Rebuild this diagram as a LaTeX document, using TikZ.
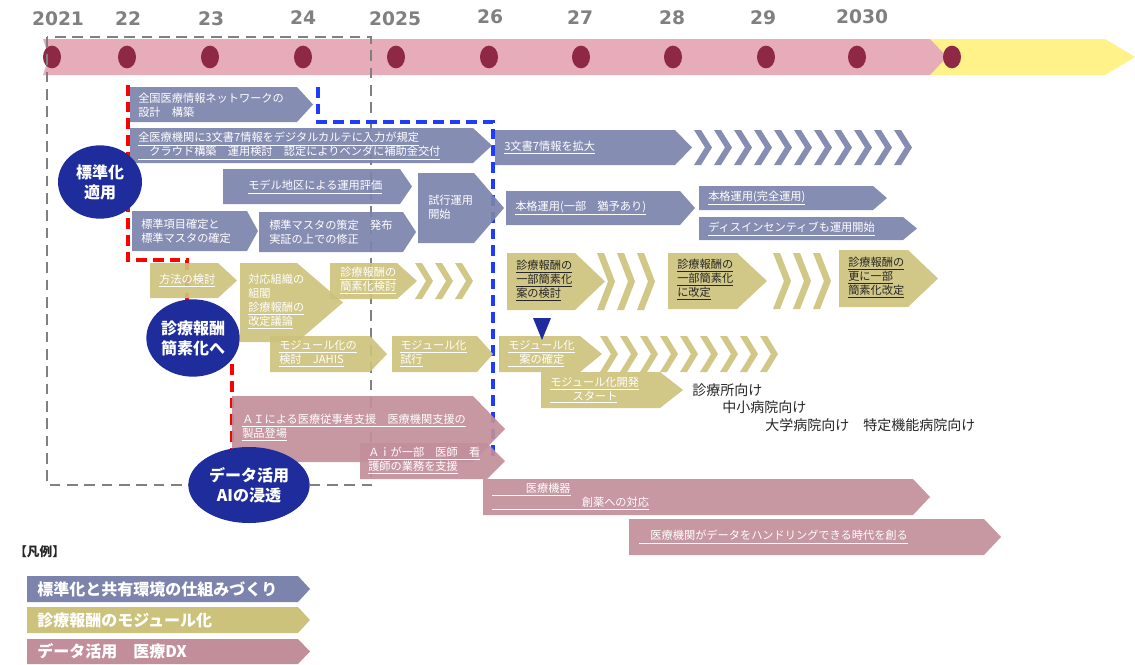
\documentclass[tikz,border=0pt]{standalone}
\usepackage{fontspec}
\setmainfont{Noto Sans CJK JP}
\newfontfamily\yearfont{DejaVu Sans}
\usetikzlibrary{shapes.geometric}
\definecolor{cBand}{RGB}{231,172,185}
\definecolor{cYel}{RGB}{255,242,136}
\definecolor{cDot}{RGB}{142,40,68}
\definecolor{cYear}{RGB}{128,128,128}
\definecolor{cBlue}{RGB}{124,131,172}
\definecolor{cOlive}{RGB}{205,194,124}
\definecolor{cMauve}{RGB}{194,142,154}
\definecolor{cNavy}{RGB}{30,45,155}
\definecolor{cRed}{RGB}{255,0,0}
\definecolor{cBDash}{RGB}{30,60,255}
\definecolor{cDark}{RGB}{38,38,38}
\newcommand\penta[6]{\fill[#1] (#2,#3) -- (#4,#3) -- (#5,{(#3+#6)/2}) -- (#4,#6) -- (#2,#6) -- cycle;}
\newcommand\chevs[5]{\foreach \k in {1,...,#5}{\pgfmathsetmacro\cx{#2+(\k-1)*20}
  \fill[#1] (\cx,#3) -- (\cx+7,#3) -- (\cx+18,{(#3+#4)/2}) -- (\cx+7,#4) -- (\cx,#4) -- (\cx+11,{(#3+#4)/2}) -- cycle;}}
\newcommand\myul[1]{\underline{#1}}
\begin{document}
\begin{tikzpicture}[x=0.75pt,y=-0.75pt,
  bluebox/.style={fill=cBlue,fill opacity=0.92},
  olivebox/.style={fill=cOlive,fill opacity=0.92},
  mauvebox/.style={fill=cMauve,fill opacity=0.92},
  txt/.style={text=white,font=\fontsize{8.4}{10.5}\selectfont,align=left,inner sep=0pt,anchor=west},
  dtxt/.style={txt,text=cDark},
  year/.style={text=cYear,font=\yearfont\bfseries\fontsize{14}{16}\selectfont,inner sep=0pt},
  dot/.style={ellipse,fill=cDot,minimum width=13.5pt,minimum height=17pt,inner sep=0pt},
  circ/.style={ellipse,fill=cNavy,text=white,font=\bfseries\fontsize{12}{15}\selectfont,align=center,inner sep=0pt},
  target/.style={text=cDark,font=\fontsize{10.5}{12}\selectfont,inner sep=0pt,anchor=west},
  legtxt/.style={text=white,font=\bfseries\fontsize{12}{14}\selectfont,inner sep=0pt,anchor=west}]
\useasboundingbox (0,0) rectangle (1135,664);
% timeline band
\fill[cYel] (930,39) -- (1105,39) -- (1135,57) -- (1105,75) -- (930,75) -- (945,57) -- cycle;
\fill[cBand] (43,39) -- (930,39) -- (947,57) -- (930,75) -- (43,75) -- (49,57) -- cycle;
\foreach \n/\x in {d1/52,d2/127,d3/210,d4/303,d5/396,d6/489,d7/581,d8/673,d9/766,d10/857,d11/952}
  \node[dot] (\n) at (\x,57) {};
\node[year] (y21) at (58,19) {2021};
\node[year] (y22) at (128,19) {22};
\node[year] (y23) at (211,19) {23};
\node[year] (y24) at (303,18) {24};
\node[year] (y25) at (395,19) {2025};
\node[year] (y26) at (490,17) {26};
\node[year] (y27) at (580,18) {27};
\node[year] (y28) at (672,18) {28};
\node[year] (y29) at (763,18) {29};
\node[year] (y30) at (862,17) {2030};
% dashed frames
\draw[cYear,line width=2.1pt,dash pattern=on 8pt off 5pt] (47,37) rectangle (371,485);
\draw[cRed,line width=2.3pt,dash pattern=on 8pt off 4.5pt] (128,85) -- (128,260) -- (187,260) -- (187,360) -- (232,360) -- (232,450);
\draw[cBDash,line width=2.3pt,dash pattern=on 8pt off 4.5pt] (318,87) -- (318,122) -- (493,122) -- (493,462);
% blue boxes
\penta{bluebox}{130}{87}{297}{313}{122}
\penta{bluebox}{130}{128}{473}{492}{163}
\penta{bluebox}{223}{169}{400}{412}{204}
\penta{bluebox}{132}{211}{247}{258}{251}
\penta{bluebox}{259}{212}{403}{416}{252}
\penta{bluebox}{418}{173}{474}{504}{243}
\penta{bluebox}{495}{130}{675}{692}{165}
\chevs{bluebox}{694}{130}{165}{11}
\penta{bluebox}{506}{191}{680}{695}{225}
\penta{bluebox}{699}{186}{873}{887}{210}
\penta{bluebox}{699}{217}{903}{917}{240}
% olive boxes
\penta{olivebox}{150}{263}{218}{237}{298}
\penta{olivebox}{240}{263}{297}{343}{342}
\penta{olivebox}{330}{263}{397}{417}{299}
\chevs{olivebox}{415}{263}{299}{3}
\penta{olivebox}{270}{336}{370}{387}{372}
\penta{olivebox}{392}{336}{477}{493}{372}
\penta{olivebox}{507}{253}{575}{605}{310}
\chevs{olivebox}{597}{253}{310}{3}
\penta{olivebox}{668}{253}{737}{767}{309}
\chevs{olivebox}{773}{253}{309}{3}
\penta{olivebox}{839}{250}{908}{938}{307}
\penta{olivebox}{499}{336}{580}{602}{372}
\chevs{olivebox}{600}{336}{372}{9}
\penta{olivebox}{541}{372}{660}{683}{408}
% mauve boxes
\penta{mauvebox}{232}{396}{473}{505}{462}
\penta{mauvebox}{360}{443}{487}{505}{479}
\penta{mauvebox}{483}{479}{913}{930}{515}
\penta{mauvebox}{629}{519}{984}{1001}{555}
% circles
\node[circ,minimum width=63pt,minimum height=55pt] (c1) at (100,182) {標準化\\適用};
\node[circ,minimum width=70pt,minimum height=58pt] (c2) at (193,338) {診療報酬\\簡素化へ};
\node[circ,minimum width=91pt,minimum height=57pt] (c3) at (249,485) {データ活用\\AIの浸透};
\fill[cNavy] (533,318) -- (551,318) -- (542,340) -- cycle;
% texts: blue group
\node[txt] (b1) at (138,105) {全国医療情報ネットワークの\\設計　構築};
\node[txt] (b2) at (138,146) {\myul{全医療機関に3文書7情報をデジタルカルテに入力が規定}\\\myul{　クラウド構築　運用検討　認定によりベンダに補助金交付}};
\node[txt] (b3) at (248,187) {\myul{モデル地区による運用評価}};
\node[txt] (b4) at (141,231) {標準項目確定と\\標準マスタの確定};
\node[txt] (b5) at (269,232) {標準マスタの策定　発布\\実証の上での修正};
\node[txt] (b6) at (428,207) {試行運用\\開始};
\node[txt] (b7) at (504,148) {\myul{3文書7情報を拡大}};
\node[txt] (b8) at (515,208) {\myul{本格運用(一部　猶予あり)}};
\node[txt] (b9) at (708,198) {\myul{本格運用(完全運用)}};
\node[txt] (b10) at (708,229) {\myul{ディスインセンティブも運用開始}};
% olive texts
\node[txt] (o1) at (159,281) {\myul{方法の検討}};
\node[txt] (o2) at (248,302) {対応組織の\\組閣\\\myul{診療報酬の}\\\myul{改定議論}};
\node[txt] (o3) at (340,281) {\myul{診療報酬の}\\\myul{簡素化検討}};
\node[txt] (o4) at (279,354) {\myul{モジュール化の}\\\myul{検討　JAHIS}};
\node[txt] (o5) at (400,354) {\myul{モジュール化}\\\myul{試行}};
\node[dtxt] (o6) at (516,281) {\myul{診療報酬の}\\\myul{一部簡素化}\\\myul{案の検討}};
\node[dtxt] (o7) at (677,280) {\myul{診療報酬の}\\\myul{一部簡素化}\\\myul{に改定}};
\node[dtxt] (o8) at (848,278) {\myul{診療報酬の}\\\myul{更に一部}\\\myul{簡素化改定}};
\node[txt] (o9) at (508,354) {\myul{モジュール化}\\\myul{　案の確定}};
\node[txt] (o10) at (550,390) {\myul{モジュール化開発}\\\myul{　　スタート}};
\node[target] (t1) at (692,390) {診療所向け};
\node[target] (t2) at (722,407) {中小病院向け};
\node[target] (t3) at (765,425) {大学病院向け　特定機能病院向け};
% mauve texts
\node[txt] (m1) at (242,428) {\myul{ＡＩによる医療従事者支援　医療機関支援の}\\\myul{製品登場}};
\node[txt] (m2) at (368,461) {\myul{Ａｉが一部　医師　看}\\\myul{護師の業務を支援}};
\node[txt] (m3) at (492,497) {\myul{　　　医療機器}\\\myul{　　　　　　　　創薬への対応}};
\node[txt] (m4) at (639,537) {\myul{　医療機関がデータをハンドリングできる時代を創る}};
% legend
\node[text=cDark,font=\bfseries\fontsize{9.5}{11}\selectfont,inner sep=0pt,anchor=west] (leg) at (14,552) {【凡例】};
\penta{fill=cBlue}{27}{576}{298}{310}{602}
\penta{fill=cOlive}{27}{607}{298}{310}{633}
\penta{fill=cMauve}{27}{639}{298}{310}{664}
\node[legtxt] (l1) at (37,589) {標準化と共有環境の仕組みづくり};
\node[legtxt] (l2) at (37,620) {診療報酬のモジュール化};
\node[legtxt] (l3) at (37,651) {データ活用　医療DX};
\end{tikzpicture}
\end{document}
